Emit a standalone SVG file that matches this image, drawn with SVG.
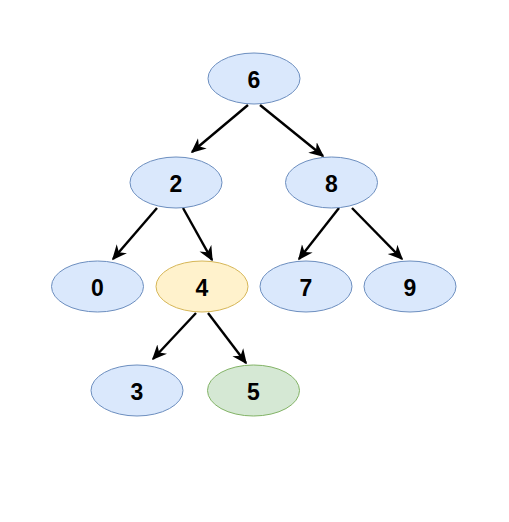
<svg xmlns="http://www.w3.org/2000/svg" width="509" height="522" viewBox="0 0 509 522">
<style>
.blue{fill:#dae8fc;stroke:#6c8ebf;stroke-width:1}
.yellow{fill:#fff2cc;stroke:#d6b656;stroke-width:1}
.green{fill:#d5e8d4;stroke:#82b366;stroke-width:1}
text{font-family:"Liberation Sans",Arial,Helvetica,sans-serif;font-weight:bold;font-size:23px;fill:#000;text-anchor:middle}
.edge{stroke:#000;stroke-width:2.4;fill:none;marker-end:url(#arr)}
</style>
<defs>
<marker id="arr" viewBox="0 0 10 10" refX="9" refY="5" markerWidth="15" markerHeight="15" orient="auto" markerUnits="userSpaceOnUse">
<path d="M0,0.5 L10,5 L0,9.5 L3,5 Z" fill="#000"/>
</marker>
</defs>
<rect width="509" height="522" fill="#fff"/>
<g id="edges">
<line class="edge" x1="248" y1="105" x2="192" y2="152"/>
<line class="edge" x1="260" y1="105" x2="323" y2="156"/>
<line class="edge" x1="157" y1="208" x2="113" y2="259"/>
<line class="edge" x1="183" y1="208" x2="212" y2="260"/>
<line class="edge" x1="339" y1="208" x2="299" y2="259"/>
<line class="edge" x1="352" y1="208" x2="402" y2="259"/>
<line class="edge" x1="196" y1="313" x2="153" y2="359"/>
<line class="edge" x1="208" y1="313" x2="246" y2="363"/>
</g>
<g id="n6"><ellipse class="blue" cx="254" cy="78.5" rx="46" ry="25.5"/><text x="254" y="88">6</text></g>
<g id="n2"><ellipse class="blue" cx="176" cy="182.5" rx="46" ry="25.5"/><text x="176" y="192">2</text></g>
<g id="n8"><ellipse class="blue" cx="331.5" cy="182.5" rx="46" ry="25.5"/><text x="331.5" y="192">8</text></g>
<g id="n0"><ellipse class="blue" cx="97.5" cy="286.5" rx="46" ry="25.5"/><text x="97.5" y="296">0</text></g>
<g id="n4"><ellipse class="yellow" cx="202" cy="286.5" rx="46" ry="25.5"/><text x="202" y="296">4</text></g>
<g id="n7"><ellipse class="blue" cx="306" cy="286.5" rx="46" ry="25.5"/><text x="306" y="296">7</text></g>
<g id="n9"><ellipse class="blue" cx="410" cy="286.5" rx="46" ry="25.5"/><text x="410" y="296">9</text></g>
<g id="n3"><ellipse class="blue" cx="137" cy="390.5" rx="46" ry="25.5"/><text x="137" y="400">3</text></g>
<g id="n5"><ellipse class="green" cx="253.5" cy="390.5" rx="46" ry="25.5"/><text x="253.5" y="400">5</text></g>
</svg>
